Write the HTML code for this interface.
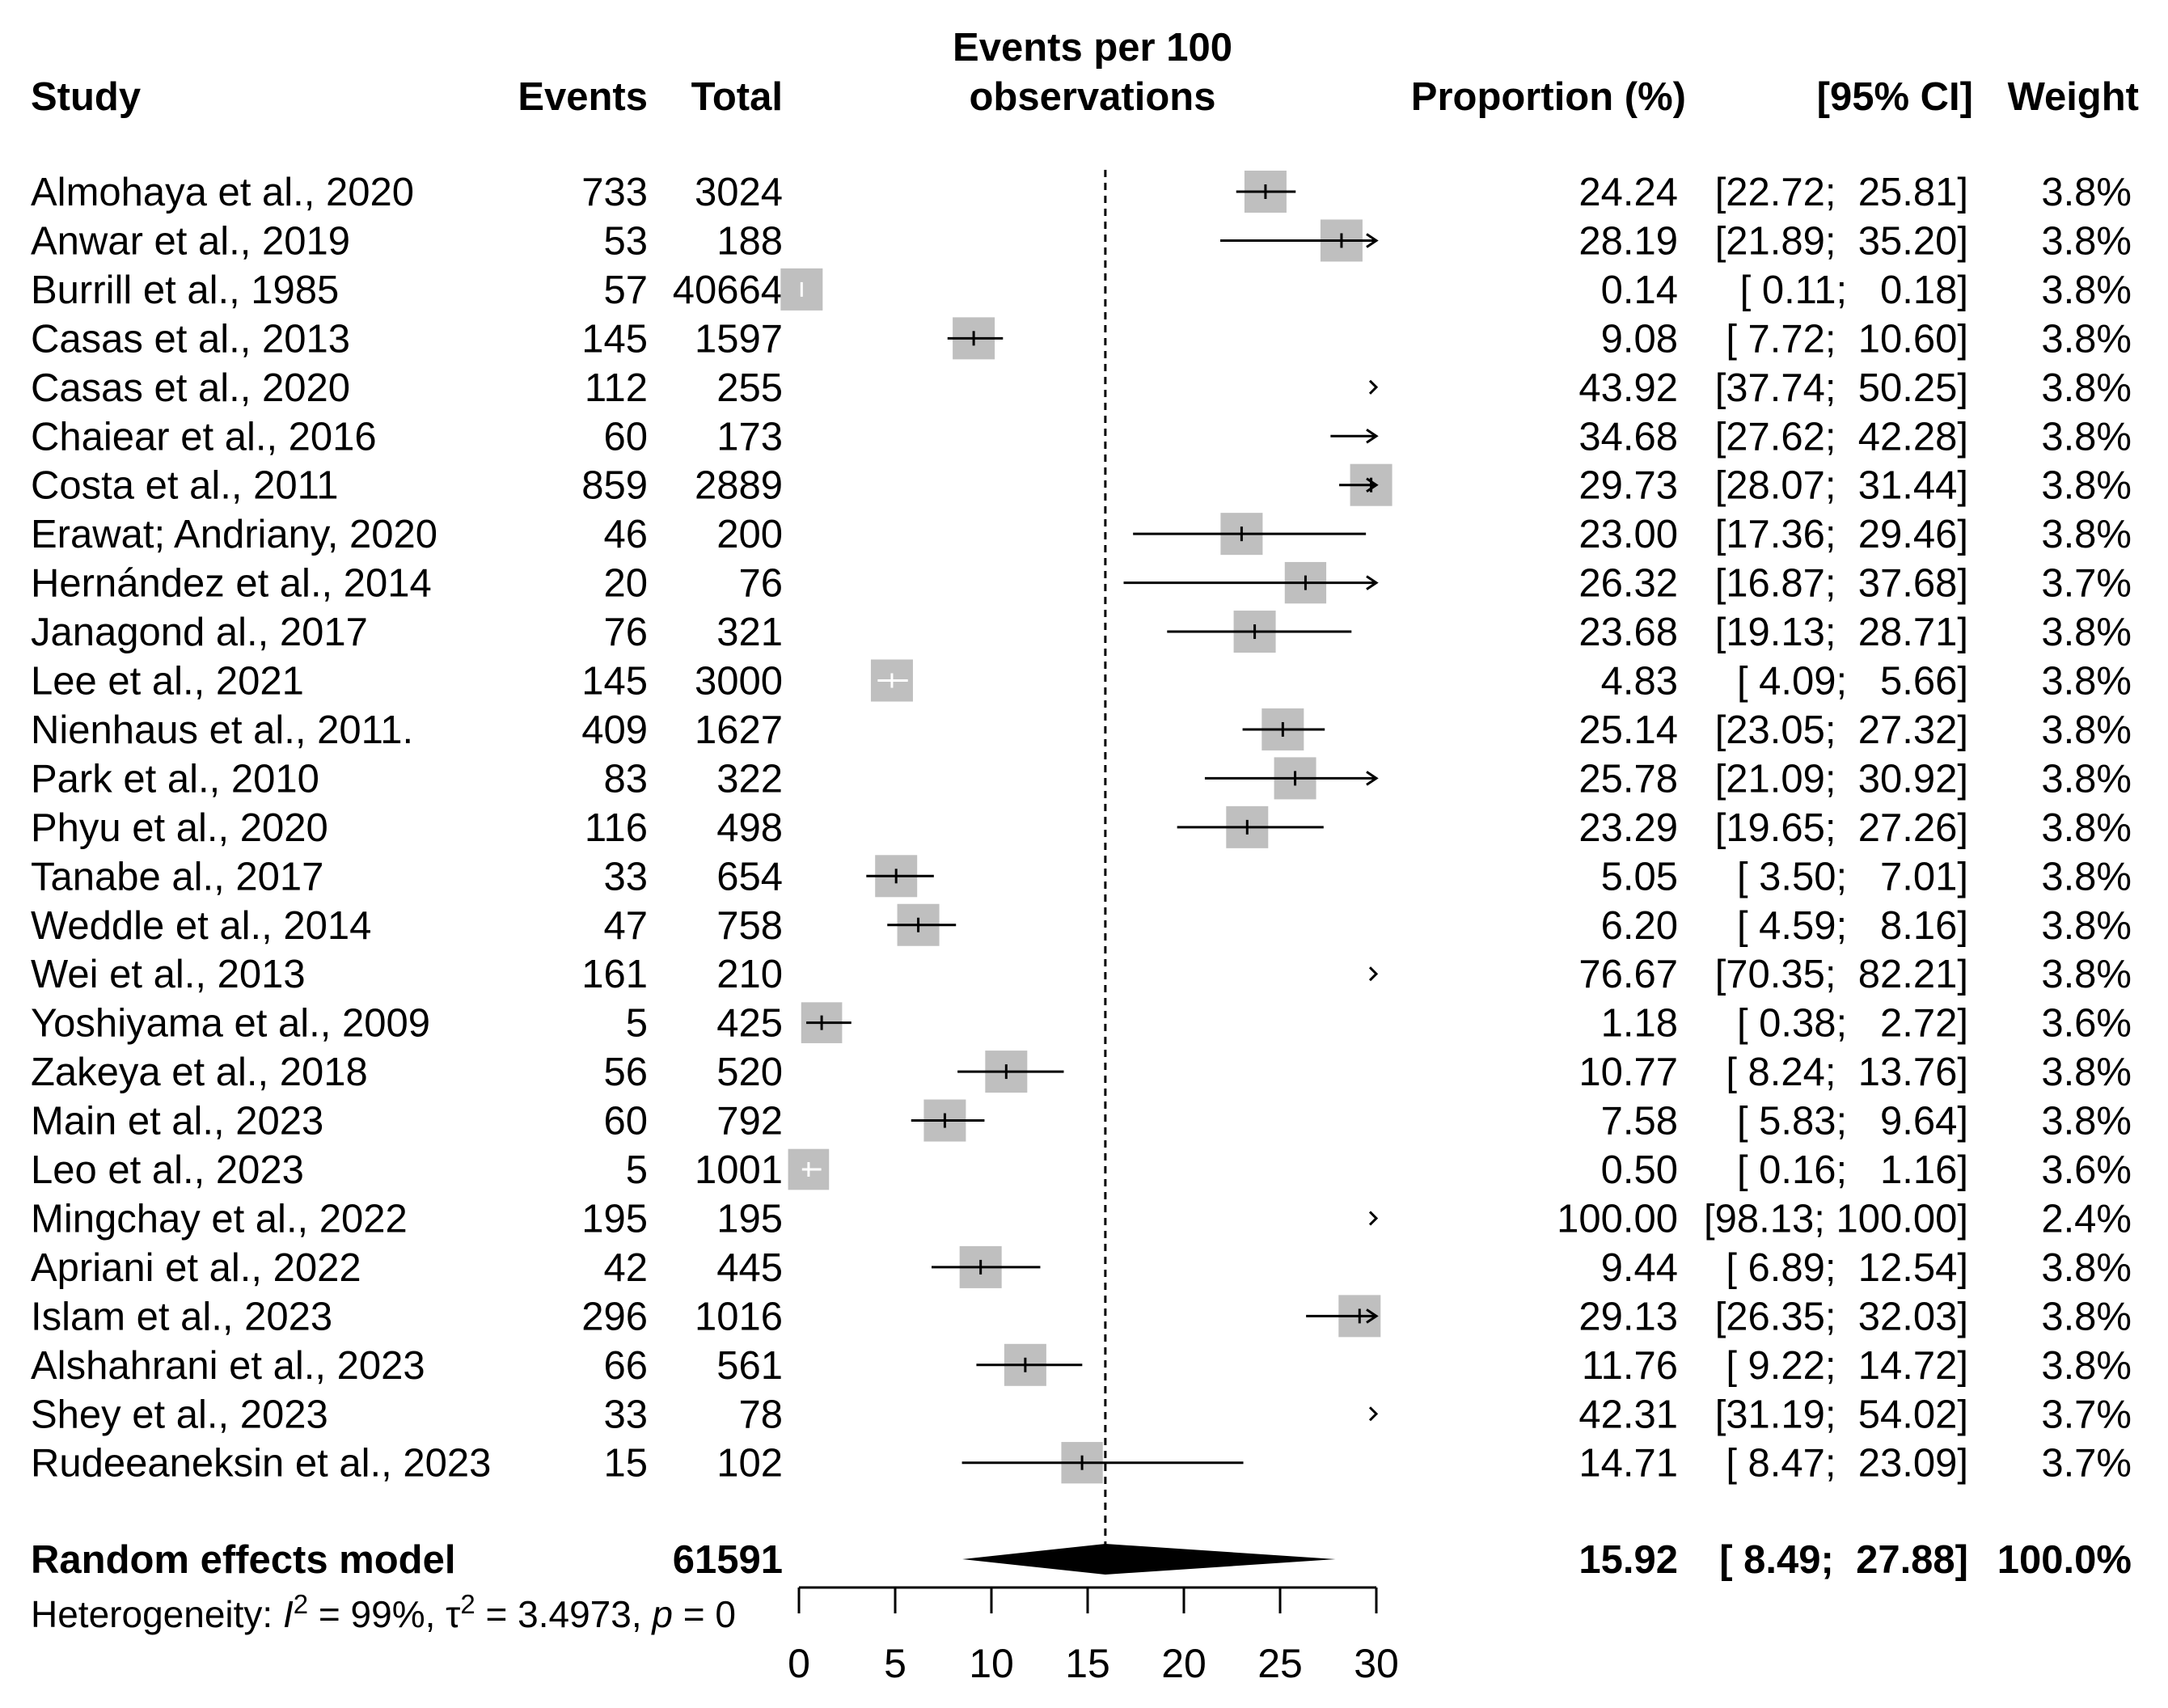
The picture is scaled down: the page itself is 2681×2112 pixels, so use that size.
<!DOCTYPE html>
<html><head><meta charset="utf-8"><style>
html,body{margin:0;padding:0;background:#fff;}
svg{display:block;font-family:"Liberation Sans",Arial,sans-serif;}
</style></head><body>
<svg id="plot" width="2681" height="2112" viewBox="0 0 2681 2112" xmlns="http://www.w3.org/2000/svg">
<rect width="2681" height="2112" fill="#fff"/>
<g font-size="49" font-weight="bold" fill="#000">
<text x="38" y="136">Study</text>
<text x="801" y="136" text-anchor="end">Events</text>
<text x="968" y="136" text-anchor="end">Total</text>
<text x="1351" y="75" text-anchor="middle">Events per 100</text>
<text x="1351" y="136" text-anchor="middle">observations</text>
<text x="2085" y="136" text-anchor="end">Proportion (%)</text>
<text x="2440" y="136" text-anchor="end">[95% CI]</text>
<text x="2645" y="136" text-anchor="end">Weight</text>
</g>
<g id="rows"></g>
<g id="axis"></g>
</svg>
<script>
const studies=["Almohaya et al., 2020","Anwar et al., 2019","Burrill et al., 1985","Casas et al., 2013","Casas et al., 2020","Chaiear et al., 2016","Costa et al., 2011","Erawat; Andriany, 2020","Hernández et al., 2014","Janagond al., 2017","Lee et al., 2021","Nienhaus et al., 2011.","Park et al., 2010","Phyu et al., 2020","Tanabe al., 2017","Weddle et al., 2014","Wei et al., 2013","Yoshiyama et al., 2009","Zakeya et al., 2018","Main et al., 2023","Leo et al., 2023","Mingchay et al., 2022","Apriani et al., 2022","Islam et al., 2023","Alshahrani et al., 2023","Shey et al., 2023","Rudeeaneksin et al., 2023"];
const events=[733,53,57,145,112,60,859,46,20,76,145,409,83,116,33,47,161,5,56,60,5,195,42,296,66,33,15];
const totals=[3024,188,40664,1597,255,173,2889,200,76,321,3000,1627,322,498,654,758,210,425,520,792,1001,195,445,1016,561,78,102];
const props=[24.24,28.19,0.14,9.08,43.92,34.68,29.73,23.00,26.32,23.68,4.83,25.14,25.78,23.29,5.05,6.20,76.67,1.18,10.77,7.58,0.50,100.00,9.44,29.13,11.76,42.31,14.71];
const lowers=[22.72,21.89,0.11,7.72,37.74,27.62,28.07,17.36,16.87,19.13,4.09,23.05,21.09,19.65,3.50,4.59,70.35,0.38,8.24,5.83,0.16,98.13,6.89,26.35,9.22,31.19,8.47];
const uppers=[25.81,35.20,0.18,10.60,50.25,42.28,31.44,29.46,37.68,28.71,5.66,27.32,30.92,27.26,7.01,8.16,82.21,2.72,13.76,9.64,1.16,100.00,12.54,32.03,14.72,54.02,23.09];
const weights=[3.8,3.8,3.8,3.8,3.8,3.8,3.8,3.8,3.7,3.8,3.8,3.8,3.8,3.8,3.8,3.8,3.8,3.6,3.8,3.8,3.6,2.4,3.8,3.8,3.8,3.7,3.7];
const pooled=[15.92,8.49,27.88];
const pooledTotal=61591;
const xTicks=[0,5,10,15,20,25,30];

const NS="http://www.w3.org/2000/svg";
const X0=988,X1=1702,XMIN=0,XMAX=30;
const xs=v=>X0+(v-XMIN)/(XMAX-XMIN)*(X1-X0);
const ROW0=237,ROWH=60.45;
const ys=i=>ROW0+i*ROWH;
const fmt2=v=>v.toFixed(2);
const PX=2075,CX=2434,WX=2636;
function el(tag,attrs,parent,txt){const e=document.createElementNS(NS,tag);for(const k in attrs)e.setAttribute(k,attrs[k]);if(txt!==undefined)e.textContent=txt;parent.appendChild(e);return e;}
const rows=document.getElementById('rows');
const ax=document.getElementById('axis');

const ref=el('line',{x1:xs(pooled[0]),x2:xs(pooled[0]),y1:210,y2:1910,stroke:'#000','stroke-width':3,'stroke-dasharray':'9,7'},rows);



function ciText(lo,hi){
  let l=fmt2(lo), h=fmt2(hi);
  l=(l.length<5?' ':'')+l;
  h=(h.length<5?' ':'')+h;
  return '['+l+(h.length>5?'; ':';  ')+h+']';
}

for(let i=0;i<studies.length;i++){
  const y=ys(i),by=y+17;
  const g=el('g',{},rows);
  
  
  const t1=el('text',{x:38,y:by,'font-size':49},g,studies[i]);
  
  
  const t2=el('text',{x:801,y:by,'font-size':49,'text-anchor':'end'},g,String(events[i]));
  
  
  const t3=el('text',{x:968,y:by,'font-size':49,'text-anchor':'end'},g,String(totals[i]));
  
  
  const t4=el('text',{x:PX,y:by,'font-size':49,'text-anchor':'end'},g,fmt2(props[i]));
  
  
  const t5=el('text',{x:CX,y:by,'font-size':49,'text-anchor':'end','xml:space':'preserve',style:'white-space:pre'},g,ciText(lowers[i],uppers[i]));
  
  
  const t8=el('text',{x:WX,y:by,'font-size':49,'text-anchor':'end'},g,weights[i].toFixed(1)+'%');
  
  

  const p=props[i],lo=lowers[i],hi=uppers[i];
  if(lo>XMAX){
    const c=xs(XMAX);
    const a=el('polyline',{points:`${c-8},${y-8} ${c},${y} ${c-8},${y+8}`,fill:'none',stroke:'#000','stroke-width':3},g);
    
    
    continue;
  }
  const s=52*Math.sqrt(weights[i]/3.8);
  const cx=xs(p);
  const lx=xs(Math.max(lo,XMIN)),rx=xs(Math.min(hi,XMAX));
  let col='#000';
  if(p<=XMAX){
    const box=el('rect',{x:cx-s/2,y:y-s/2,width:s,height:s,fill:'#bfbfbf'},g);
    
    
    if(lx>=cx-s/2&&rx<=cx+s/2) col='#fff';
  }
  const ln=el('line',{x1:lx,x2:rx,y1:y,y2:y,stroke:col,'stroke-width':3},g);
  
  
  if(p<=XMAX){
    const tk=el('line',{x1:cx,x2:cx,y1:y-9,y2:y+9,stroke:col,'stroke-width':3},g);
    
    
  }
  if(hi>XMAX){
    const aw=el('polyline',{points:`${rx-12},${y-8} ${rx},${y} ${rx-12},${y+8}`,fill:'none',stroke:'#000','stroke-width':3},g);
    
    
  }
}

const py=1928,pb=py+17;
const pg=el('g',{'font-weight':'bold','font-size':49},rows);


const r1=el('text',{x:38,y:pb},pg,'Random effects model');


const r2=el('text',{x:968,y:pb,'text-anchor':'end'},pg,String(pooledTotal));


const r3=el('text',{x:PX,y:pb,'text-anchor':'end'},pg,fmt2(pooled[0]));


const r5=el('text',{x:CX,y:pb,'text-anchor':'end','xml:space':'preserve',style:'white-space:pre'},pg,ciText(pooled[1],pooled[2]));


const r7=el('text',{x:WX,y:pb,'text-anchor':'end'},pg,'100.0%');


const dm=el('polygon',{points:`${xs(pooled[1])},${py} ${xs(pooled[0])},${py-19} ${xs(pooled[2])},${py} ${xs(pooled[0])},${py+19}`,fill:'#000'},rows);



const het=el('text',{x:38,y:2012,'font-size':46},rows);


het.innerHTML='Heterogeneity: <tspan font-style="italic">I</tspan><tspan dy="-17" font-size="33">2</tspan><tspan dy="17"> = 99%, τ</tspan><tspan dy="-17" font-size="33">2</tspan><tspan dy="17"> = 3.4973, </tspan><tspan font-style="italic">p</tspan> = 0';

const axl=el('line',{x1:xs(xTicks[0]),x2:xs(xTicks[xTicks.length-1]),y1:1963,y2:1963,stroke:'#000','stroke-width':3},ax);


xTicks.forEach(v=>{
  const tl=el('line',{x1:xs(v),x2:xs(v),y1:1963,y2:1995,stroke:'#000','stroke-width':3},ax);
  
  
  const tt=el('text',{x:xs(v),y:2074,'font-size':50,'text-anchor':'middle'},ax,String(v));
  
  
});
</script>
</body></html>
